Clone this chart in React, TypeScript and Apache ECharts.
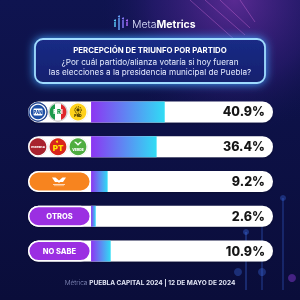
import React, { useEffect, useRef } from "react";
import * as echarts from "echarts";

const categories = ["PAN · PRI · PRD", "MORENA · PT · PVEM", "MC", "OTROS", "NO SABE"];
const values = [40.9, 36.4, 9.2, 2.6, 10.9];
const pillColors = ["rgba(0,0,0,0)", "rgba(0,0,0,0)", "#f7841f", "#9b2fe2", "#9b2fe2"];
const pillLabels = ["", "", "", "OTROS", "NO SABE"];
const titleText = "PERCEPCIÓN DE TRIUNFO POR PARTIDO";
const subtitleLines = [
  "¿Por cuál partido/alianza votaría si hoy fueran",
  "las elecciones a la presidencia municipal de Puebla?",
];
const footerLight = "Métrica ";
const footerBold = "PUEBLA CAPITAL 2024 | 12 DE MAYO DE 2024";

const AXIS_MIN = -35;
const AXIS_MAX = 101;
const FONT = "Inter, Roboto, 'Noto Sans', sans-serif";

function baseGraphics(): any[] {
  const g: any[] = [];
  g.push({
    type: "rect", z: -10, silent: true,
    shape: { x: 0, y: 0, width: 300, height: 300 },
    style: {
      fill: new echarts.graphic.LinearGradient(0, 0, 0, 1, [
        { offset: 0, color: "#0f1450" },
        { offset: 1, color: "#0a0d3a" },
      ]),
    },
  });
  g.push({
    type: "rect", z: -9, silent: true,
    shape: { x: 0, y: 0, width: 300, height: 300 },
    style: {
      fill: new echarts.graphic.RadialGradient(0.78, 0.0, 0.45, [
        { offset: 0, color: "rgba(150,60,200,0.55)" },
        { offset: 0.6, color: "rgba(90,40,170,0.25)" },
        { offset: 1, color: "rgba(20,20,90,0)" },
      ]),
    },
  });
  const streaks = [
    [[190, 0], [235, 40]],
    [[205, 0], [245, 35]],
    [[220, 0], [250, 28]],
    [[240, 0], [255, 22]],
  ];
  streaks.forEach((s) => {
    g.push({
      type: "line", z: -8, silent: true,
      shape: { x1: s[0][0], y1: s[0][1], x2: s[1][0], y2: s[1][1] },
      style: { stroke: "rgba(230,120,230,0.35)", lineWidth: 1 },
    });
  });
  const circ = [
    { x: 246, y1: 232, y2: 290, c: "rgba(60,110,230,0.4)" },
    { x: 262, y1: 210, y2: 290, c: "rgba(60,110,230,0.35)" },
    { x: 283, y1: 198, y2: 290, c: "rgba(60,110,230,0.35)" },
  ];
  circ.forEach((c) => {
    g.push({ type: "line", z: -8, silent: true, shape: { x1: c.x, y1: c.y1, x2: c.x, y2: c.y2 }, style: { stroke: c.c, lineWidth: 1.5 } });
    g.push({ type: "circle", z: -8, silent: true, shape: { cx: c.x, cy: c.y1, r: 3 }, style: { fill: c.c } });
  });
  g.push({ type: "circle", z: -8, silent: true, shape: { cx: 238, cy: 272, r: 4 }, style: { fill: "rgba(60,110,230,0.35)" } });
  g.push({ type: "circle", z: -8, silent: true, shape: { cx: 262, cy: 272, r: 4 }, style: { fill: "rgba(60,110,230,0.35)" } });
  g.push({ type: "circle", z: -8, silent: true, shape: { cx: 292, cy: 278, r: 4 }, style: { fill: "rgba(140,60,220,0.45)" } });

  const icon = [
    { x: 115, y1: 22, y2: 27, c: "#5fd0ff" },
    { x: 119, y1: 18, y2: 30, c: "#6aa8ff" },
    { x: 123, y1: 20, y2: 28, c: "#8a7cff" },
    { x: 127, y1: 22, y2: 26, c: "#b06bff" },
  ];
  icon.forEach((i) => {
    g.push({ type: "line", shape: { x1: i.x, y1: i.y1, x2: i.x, y2: i.y2 }, style: { stroke: i.c, lineWidth: 1.4 } });
    g.push({ type: "circle", shape: { cx: i.x, cy: i.y1 - 1.5, r: 1 }, style: { fill: i.c } });
  });
  g.push({
    type: "text", x: 132, y: 24,
    style: {
      text: "{a|Meta}{b|Metrics}",
      verticalAlign: "middle", align: "left",
      rich: {
        a: { fontFamily: FONT, fontSize: 10.5, fontWeight: 300, fill: "#dfe4ff" },
        b: { fontFamily: FONT, fontSize: 10.5, fontWeight: 700, fill: "#ffffff" },
      },
    },
  });
  g.push({
    type: "rect",
    shape: { x: 35, y: 39, width: 230, height: 44, r: 8 },
    style: {
      fill: new echarts.graphic.LinearGradient(0, 0, 0, 1, [
        { offset: 0, color: "#1a2b86" },
        { offset: 1, color: "#13206e" },
      ]),
      stroke: "#9fdcff", lineWidth: 1.8,
      shadowBlur: 10, shadowColor: "#3fa4ff",
    },
  });
  g.push({
    type: "text", x: 150, y: 50,
    style: { text: titleText, align: "center", verticalAlign: "middle", fontFamily: FONT, fontSize: 7.8, fontWeight: 700, fill: "#ffffff" },
  });
  subtitleLines.forEach((t, i) => {
    g.push({
      type: "text", x: 150, y: 62 + i * 10,
      style: { text: t, align: "center", verticalAlign: "middle", fontFamily: FONT, fontSize: 8.2, fontWeight: 400, fill: "#e6ecff" },
    });
  });
  g.push({
    type: "text", x: 150, y: 283,
    style: {
      text: "{a|" + footerLight + "}{b|" + footerBold + "}",
      align: "center", verticalAlign: "middle",
      rich: {
        a: { fontFamily: FONT, fontSize: 6.5, fontWeight: 300, fill: "#8d95c4" },
        b: { fontFamily: FONT, fontSize: 6.5, fontWeight: 700, fill: "#e3e6f6" },
      },
    },
  });
  return g;
}

function logoGraphics(rowY: number[]): any[] {
  const g: any[] = [];
  const circle = (cx: number, cy: number, fill: any, stroke = "#ffffff") => ({
    type: "circle", z: 50,
    shape: { cx, cy, r: 9 },
    style: { fill, stroke, lineWidth: 1.2, shadowBlur: 1, shadowColor: "rgba(0,0,0,0.4)" },
  });
  const txt = (x: number, y: number, text: string, size: number, fill: string, weight = 800) => ({
    type: "text", z: 51, x, y,
    style: { text, align: "center", verticalAlign: "middle", fontFamily: FONT, fontSize: size, fontWeight: weight, fill },
  });
  const y1 = rowY[0];
  g.push({ ...circle(38, y1, "#ffffff", "#1a3c8c") });
  g.push({ type: "circle", z: 50, shape: { cx: 38, cy: y1, r: 7.2 }, style: { fill: "#1f50a6" } });
  g.push({ type: "rect", z: 50, shape: { x: 33.5, y: y1 - 3.5, width: 9, height: 7, r: 1 }, style: { fill: "#ffffff" } });
  g.push(txt(38, y1 + 0.3, "PAN", 4.2, "#1f50a6", 900));
  g.push(circle(58, y1, new echarts.graphic.LinearGradient(0, 0, 1, 0, [
    { offset: 0, color: "#1b9a4b" }, { offset: 0.34, color: "#1b9a4b" },
    { offset: 0.34, color: "#ffffff" }, { offset: 0.66, color: "#ffffff" },
    { offset: 0.66, color: "#e0262b" }, { offset: 1, color: "#e0262b" },
  ]), "#d9d9d9"));
  g.push({
    type: "text", z: 51, x: 58, y: y1,
    style: {
      text: "{g|P}{w|R}{r|I}", align: "center", verticalAlign: "middle",
      rich: {
        g: { fontFamily: FONT, fontSize: 6, fontWeight: 900, fill: "#ffffff" },
        w: { fontFamily: FONT, fontSize: 6, fontWeight: 900, fill: "#1b9a4b" },
        r: { fontFamily: FONT, fontSize: 6, fontWeight: 900, fill: "#ffffff" },
      },
    },
  });
  g.push(circle(78, y1, "#ffd21a", "#ffffff"));
  g.push({ type: "circle", z: 51, shape: { cx: 78, cy: y1 - 2, r: 3.2 }, style: { fill: "none", stroke: "#4a3a00", lineWidth: 1.1, lineDash: [1, 0.8] } });
  g.push({ type: "circle", z: 51, shape: { cx: 78, cy: y1 - 2, r: 1.6 }, style: { fill: "#4a3a00" } });
  g.push(txt(78, y1 + 4.5, "PRD", 3.6, "#3a2c00", 900));

  const y2 = rowY[1];
  g.push(circle(38, y2, "#a8232d"));
  g.push(txt(38, y2, "morena", 3.6, "#ffffff", 800));
  g.push(circle(58, y2, "#d9261c"));
  g.push(txt(58, y2 + 0.8, "PT", 8, "#ffe000", 900));
  g.push({ type: "circle", z: 51, shape: { cx: 57, cy: y2 - 5, r: 1 }, style: { fill: "#ffe000" } });
  g.push(circle(78, y2, "#4fae3f"));
  g.push({ type: "polygon", z: 51, shape: { points: [[74, y2 - 5], [78, y2 - 1], [82, y2 - 5], [80, y2 - 5], [78, y2 - 3], [76, y2 - 5]] }, style: { fill: "#ffffff" } });
  g.push(txt(78, y2 + 3.2, "VERDE", 3.4, "#ffffff", 900));

  const y3 = rowY[2];
  const cx = 59;
  g.push({
    type: "polygon", z: 51,
    shape: { points: [[cx - 7, y3 - 4], [cx - 3.5, y3 - 4], [cx, y3 - 1], [cx + 3.5, y3 - 4], [cx + 7, y3 - 4], [cx + 4, y3 + 0.5], [cx + 1, y3 + 0.5], [cx, y3 + 1.5], [cx - 1, y3 + 0.5], [cx - 4, y3 + 0.5]] },
    style: { fill: "#ffffff" },
  });
  g.push({ type: "rect", z: 51, shape: { x: cx - 6, y: y3 + 2.5, width: 12, height: 0.8 }, style: { fill: "rgba(255,255,255,0.85)" } });
  g.push({ type: "rect", z: 51, shape: { x: cx - 5, y: y3 + 4, width: 10, height: 0.6 }, style: { fill: "rgba(255,255,255,0.7)" } });
  return g;
}

export default function App() {
  const ref = useRef<HTMLDivElement>(null);
  useEffect(() => {
    if (!ref.current) return;
    const chart = echarts.init(ref.current, null, { renderer: "svg", width: 300, height: 300 });
    const barW = 21;
    const option: any = {
      animation: false,
      grid: { left: 28, right: 27, top: 94.6, bottom: 31.6, containLabel: false },
      xAxis: { type: "value", min: AXIS_MIN, max: AXIS_MAX, show: false },
      yAxis: { type: "category", data: categories, inverse: true, show: false },
      graphic: baseGraphics(),
      series: [
        {
          name: "Percepción",
          type: "bar",
          barWidth: barW,
          data: values,
          showBackground: true,
          backgroundStyle: { color: "#ffffff", borderRadius: 11, shadowBlur: 2, shadowColor: "rgba(0,0,0,0.25)", shadowOffsetY: 1 },
          itemStyle: {
            color: new echarts.graphic.LinearGradient(0, 0, 1, 0, [
              { offset: 0, color: "#8c36f2" },
              { offset: 1, color: "#30dcf4" },
            ]),
          },
          z: 2,
        },
        {
          name: "etiqueta",
          type: "bar",
          barWidth: barW,
          barGap: "-100%",
          data: categories.map((c, i) => ({
            value: AXIS_MIN,
            itemStyle: {
              color: pillColors[i],
              borderColor: i >= 2 ? "#ffffff" : "rgba(0,0,0,0)",
              borderWidth: i >= 2 ? 1.5 : 0,
              borderRadius: 11,
            },
          })),
          label: {
            show: true,
            position: "inside",
            formatter: (p: any) => pillLabels[p.dataIndex],
            color: "#ffffff",
            fontFamily: FONT,
            fontSize: 7.5,
            fontWeight: 800,
          },
          z: 3,
        },
        {
          name: "valor",
          type: "bar",
          barWidth: barW,
          barGap: "-100%",
          data: values.map(() => AXIS_MAX),
          itemStyle: { color: "rgba(0,0,0,0)" },
          label: {
            show: true,
            position: "insideRight",
            distance: 8,
            formatter: (p: any) => values[p.dataIndex].toFixed(1) + "%",
            color: "#151515",
            fontFamily: FONT,
            fontSize: 12.5,
            fontWeight: 800,
          },
          z: 4,
        },
      ],
    };
    chart.setOption(option);
    const rowY = categories.map((_, i) => chart.convertToPixel({ yAxisIndex: 0 }, i) as number);
    chart.setOption({ graphic: [...baseGraphics(), ...logoGraphics(rowY)] }, { replaceMerge: ["graphic"] });
    return () => chart.dispose();
  }, []);
  return <div ref={ref} style={{ position: "fixed", left: 0, top: 0, width: 300, height: 300 }} />;
}
